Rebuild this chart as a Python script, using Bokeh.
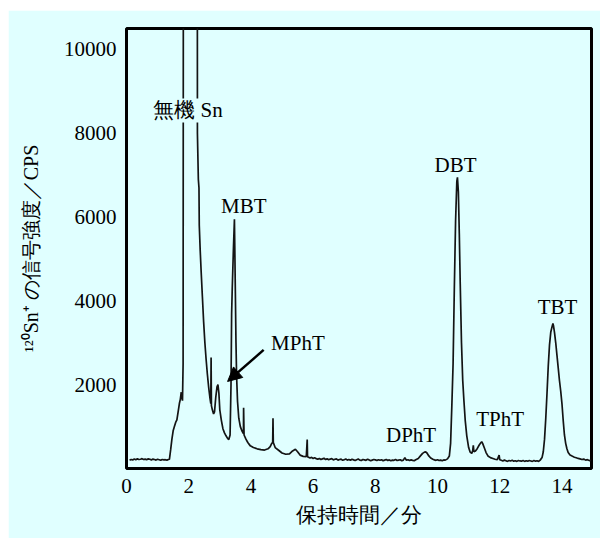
from bokeh.plotting import figure
from bokeh.models import Label, Arrow, NormalHead, FixedTicker, Range1d, Spacer
from bokeh.layouts import column, row
from bokeh.embed import file_html
from bokeh.resources import INLINE

# ---- data ----
time_min = [
    0.10, 0.15, 0.20, 0.25, 0.30, 0.35, 0.40, 0.45, 0.50, 0.55, 0.60, 0.65, 0.70, 0.75, 0.80,
    0.85, 0.90, 0.95, 1.00, 1.05, 1.10, 1.15, 1.20, 1.25, 1.30, 1.35, 1.38,
    1.42, 1.46, 1.50, 1.54, 1.58, 1.62, 1.66, 1.70, 1.73, 1.76, 1.78, 1.80, 1.82, 1.85,
    2.26, 2.28, 2.31, 2.33, 2.34, 2.37, 2.40, 2.44, 2.48, 2.52, 2.56, 2.60, 2.64, 2.68, 2.71,
    2.72, 2.73, 2.76, 2.80, 2.83, 2.87, 2.91, 2.94, 2.97, 3.00, 3.05, 3.10, 3.15, 3.20, 3.25,
    3.29, 3.33, 3.36, 3.38, 3.40, 3.44, 3.47, 3.50, 3.52, 3.54, 3.57, 3.61, 3.66, 3.71, 3.76,
    3.765, 3.78, 3.84, 3.90, 3.98, 4.08, 4.20, 4.32, 4.44, 4.55, 4.62, 4.67, 4.70, 4.71, 4.72,
    4.78, 4.90, 5.00, 5.12, 5.24, 5.34, 5.43, 5.50, 5.58, 5.68, 5.78, 5.81, 5.82,
    5.90, 5.95, 6.00, 6.05, 6.10, 6.15, 6.20, 6.25, 6.30, 6.35, 6.40, 6.45, 6.50, 6.55, 6.60,
    6.65, 6.70, 6.75, 6.80, 6.85, 6.90, 6.95, 7.00, 7.05, 7.10, 7.15, 7.20, 7.25, 7.30, 7.35,
    7.40, 7.45, 7.50, 7.55, 7.60, 7.65, 7.70, 7.75, 7.80, 7.85, 7.90, 7.95, 8.00, 8.05, 8.10,
    8.15, 8.20, 8.25, 8.30, 8.35, 8.40, 8.45, 8.50, 8.55, 8.60, 8.65, 8.70, 8.75, 8.80, 8.85,
    8.90, 8.95, 9.00, 9.05, 9.10, 9.15, 9.20, 9.25, 9.30,
    9.38, 9.45, 9.52, 9.58, 9.62, 9.66, 9.72, 9.78, 9.85, 9.90, 9.95, 10.00, 10.05, 10.10,
    10.15, 10.20, 10.25, 10.32,
    10.38, 10.42, 10.46, 10.50, 10.54, 10.58, 10.62, 10.64, 10.67, 10.70, 10.73, 10.77, 10.81,
    10.85, 10.89, 10.94, 11.00, 11.05, 11.10, 11.13, 11.15, 11.17, 11.22, 11.28, 11.34, 11.38,
    11.42, 11.45, 11.50, 11.56, 11.62, 11.70, 11.78, 11.85, 11.92, 11.98, 12.00,
    12.05, 12.10, 12.15, 12.20, 12.25, 12.30, 12.35, 12.40, 12.45, 12.50, 12.55, 12.60, 12.65,
    12.70, 12.75, 12.80, 12.85, 12.90, 12.95, 13.00, 13.05, 13.10, 13.15, 13.20, 13.25,
    13.30, 13.36, 13.40, 13.44, 13.48, 13.52, 13.56, 13.60, 13.64, 13.68, 13.71, 13.73, 13.76,
    13.80, 13.84, 13.88, 13.92, 13.96, 14.00, 14.04, 14.08, 14.12, 14.16, 14.20, 14.26, 14.34,
    14.40, 14.46, 14.52, 14.58, 14.64, 14.70, 14.76, 14.82, 14.88, 14.93,
]
intensity_cps = [
    200, 215, 205, 225, 210, 230, 215, 220, 235, 215, 225, 210, 230, 220, 205,
    225, 215, 200, 220, 210, 195, 215, 205, 210, 200, 215, 220,
    450, 700, 900, 1000, 1100, 1160, 1350, 1550, 1650, 1820, 1700, 1620, 2500, 40000,
    40000, 8000, 6900, 6700, 5800, 5200, 4700, 4100, 3500, 3000, 2600, 2250, 1950, 1700, 1550,
    2650, 1500, 1400, 1300, 1350, 1700, 1950, 2000, 1800, 1400, 1150, 950, 850, 780, 720,
    690, 800, 2000, 3700, 4300, 5300, 5950, 4200, 3000, 2200, 1600, 1200, 1000, 900, 830,
    1450, 800, 700, 620, 540, 500, 470, 450, 440, 470, 520, 600, 620, 1200, 620,
    500, 430, 370, 340, 350, 420, 460, 400, 320, 290, 280, 690, 280,
    250, 265, 240, 255, 235, 220, 240, 215, 230, 245, 215, 230, 210, 225, 235,
    205, 220, 230, 200, 215, 225, 195, 210, 225, 200, 215, 195, 220, 205, 190,
    210, 225, 200, 190, 215, 205, 195, 220, 205, 185, 200, 215, 205, 190, 210,
    195, 210, 185, 200, 215, 190, 205, 185, 200, 195, 215, 190, 200, 210, 185,
    200, 260, 195, 210, 190, 205, 195, 185, 210,
    240, 300, 360, 390, 395, 370, 300, 250, 220, 205, 195, 210, 190, 200,
    185, 205, 200, 230,
    300, 600, 1500, 2500, 4300, 5900, 6850, 6950, 6600, 5600, 4400, 3000, 2100,
    1600, 1150, 780, 500, 390, 360, 420, 550, 400, 420, 480, 560, 600,
    640, 600, 500, 380, 300, 260, 240, 220, 210, 320, 210,
    195, 180, 200, 185, 170, 190, 180, 195, 175, 185, 170, 190, 180,
    175, 190, 170, 185, 175, 190, 180, 170, 190, 175, 185, 170,
    200, 260, 400, 700, 1200, 1800, 2450, 2950, 3250, 3380, 3460, 3400, 3250,
    3000, 2700, 2400, 2100, 1850, 1550, 1150, 800, 600, 470, 380, 320, 290,
    270, 255, 240, 230, 215, 225, 200, 210, 190, 195,
]
x_ticks = [0, 2, 4, 6, 8, 10, 12, 14]
y_ticks = [2000, 4000, 6000, 8000, 10000]
peak_names = ["無機 Sn", "MBT", "MPhT", "DPhT", "DBT", "TPhT", "TBT"]

BG = "#e0ffff"
SERIF = "Liberation Serif"

p = figure(width=592, height=528, output_backend="svg", toolbar_location=None,
           x_range=Range1d(0, 14.95), y_range=Range1d(0, 10500),
           background_fill_color=BG, border_fill_color=BG,
           min_border_left=118, min_border_right=9, min_border_top=18, min_border_bottom=70)
p.grid.visible = False
p.outline_line_color = "black"
p.outline_line_width = 3

p.line(time_min, intensity_cps, line_color="#141414", line_width=1.7)

bx = p.below[0]
ly = p.left[0]
for ax in (bx, ly):
    ax.axis_line_color = None
    ax.major_tick_line_color = None
    ax.minor_tick_line_color = None
    ax.major_tick_out = 0
    ax.major_tick_in = 0
    ax.major_label_text_font = SERIF
    ax.major_label_text_font_size = "21px"
    ax.major_label_text_color = "black"
    ax.major_label_standoff = 10
    ax.axis_label_text_font = SERIF
    ax.axis_label_text_font_style = "normal"
    ax.axis_label_text_color = "black"

bx.ticker = FixedTicker(ticks=x_ticks)
ly.ticker = FixedTicker(ticks=y_ticks)
bx.axis_label = "保持時間／分"
bx.axis_label_text_font_size = "21px"
bx.axis_label_standoff = 7
ly.axis_label = "¹²⁰Sn⁺ の信号強度／CPS"
ly.axis_label_text_font_size = "20px"
ly.axis_label_standoff = 19

label_pos = {
    "無機 Sn": (1.975, 8545),
    "MBT": (3.77, 6260),
    "MPhT": (5.51, 3000),
    "DPhT": (9.15, 797),
    "DBT": (10.58, 7235),
    "TPhT": (12.01, 1190),
    "TBT": (13.86, 3845),
}
for name in peak_names:
    x, y = label_pos[name]
    lab = Label(x=x, y=y, text=name, text_align="center", text_baseline="middle",
                text_font=SERIF, text_font_size="21px", text_color="black")
    if name == "無機 Sn":
        lab.background_fill_color = BG
    p.add_layout(lab)

p.add_layout(Arrow(end=NormalHead(size=14, fill_color="black", line_color="black"),
                   x_start=4.41, y_start=2832, x_end=3.25, y_end=2078,
                   line_color="black", line_width=2.5))

layout = column(Spacer(height=10), row(Spacer(width=8), p))
open("out.html", "w").write(file_html(layout, INLINE))
